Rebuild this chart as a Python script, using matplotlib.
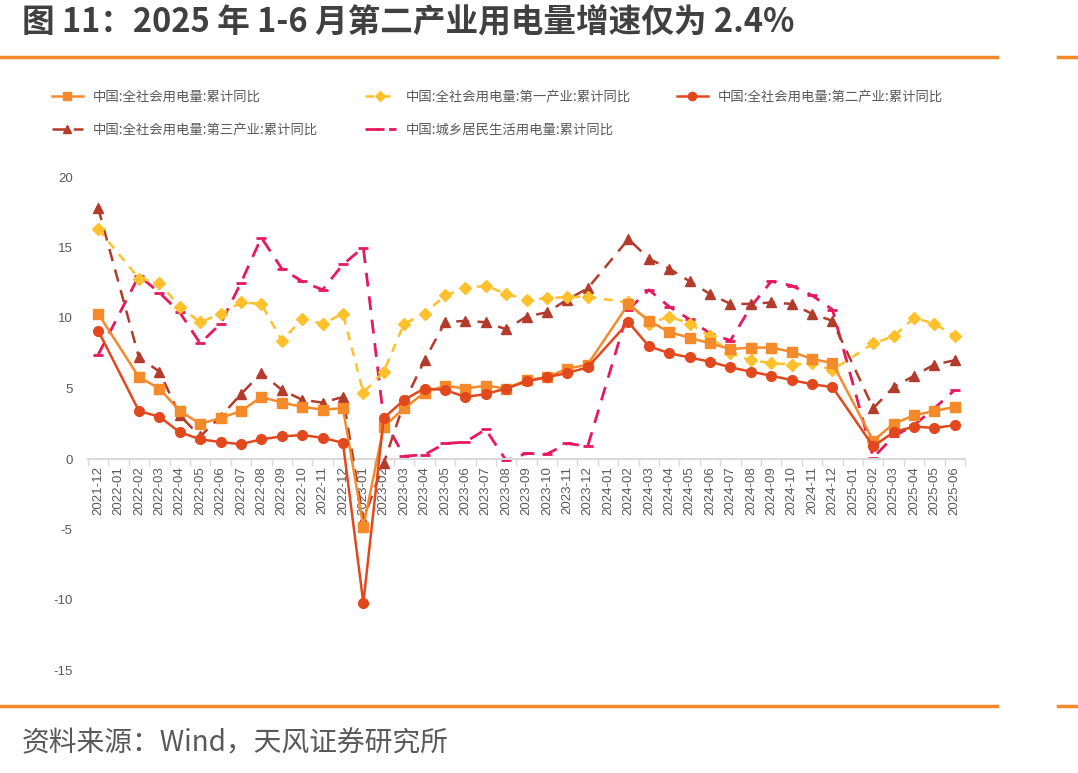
import numpy as np
import matplotlib
matplotlib.use("Agg")
import matplotlib.pyplot as plt
from matplotlib.lines import Line2D

plt.rcParams['font.family'] = ['Liberation Sans', 'Noto Sans CJK SC', 'DejaVu Sans']

months = ["2021-12", "2022-01", "2022-02", "2022-03", "2022-04", "2022-05", "2022-06",
          "2022-07", "2022-08", "2022-09", "2022-10", "2022-11", "2022-12", "2023-01",
          "2023-02", "2023-03", "2023-04", "2023-05", "2023-06", "2023-07", "2023-08",
          "2023-09", "2023-10", "2023-11", "2023-12", "2024-01", "2024-02", "2024-03",
          "2024-04", "2024-05", "2024-06", "2024-07", "2024-08", "2024-09", "2024-10",
          "2024-11", "2024-12", "2025-01", "2025-02", "2025-03", "2025-04", "2025-05",
          "2025-06"]

N = None
total = [10.3, N, 5.8, 5.0, 3.4, 2.5, 2.9, 3.4, 4.4, 4.0, 3.7, 3.5, 3.6, -4.8,
         2.3, 3.6, 4.7, 5.2, 5.0, 5.2, 5.0, 5.6, 5.8, 6.4, 6.7, N, 11.0, 9.8,
         9.0, 8.6, 8.2, 7.8, 7.9, 7.9, 7.6, 7.1, 6.8, N, 1.3, 2.5, 3.1, 3.4, 3.7]
primary = [16.3, N, 12.8, 12.5, 10.8, 9.7, 10.3, 11.1, 11.0, 8.4, 9.9, 9.6, 10.3, 4.7,
           6.2, 9.6, 10.3, 11.6, 12.1, 12.3, 11.7, 11.3, 11.4, 11.5, 11.5, N, 11.1, 9.6,
           10.1, 9.6, 8.7, 7.5, 7.0, 6.8, 6.7, 6.8, 6.3, N, 8.2, 8.7, 10.0, 9.6, 8.7]
secondary = [9.1, N, 3.4, 3.0, 1.9, 1.4, 1.2, 1.05, 1.4, 1.6, 1.7, 1.5, 1.15, -10.2,
             2.9, 4.2, 5.0, 4.9, 4.4, 4.6, 5.0, 5.5, 5.8, 6.1, 6.5, N, 9.7, 8.0,
             7.5, 7.2, 6.9, 6.5, 6.2, 5.9, 5.6, 5.3, 5.1, N, 0.9, 1.9, 2.3, 2.2, 2.4]
tertiary = [17.8, N, 7.2, 6.2, 3.1, 1.6, 3.0, 4.6, 6.1, 4.9, 4.2, 4.0, 4.4, -4.3,
            -0.3, 4.0, 7.0, 9.7, 9.8, 9.7, 9.2, 10.1, 10.4, 11.3, 12.1, N, 15.6, 14.2,
            13.5, 12.6, 11.7, 11.0, 11.0, 11.1, 11.0, 10.3, 9.8, N, 3.6, 5.1, 5.9, 6.7, 7.0]
residential = [7.4, N, 13.0, 11.8, 10.4, 8.2, 9.6, 12.5, 15.7, 13.5, 12.6, 12.0, 13.8, 15.0,
               2.8, 0.2, 0.3, 1.1, 1.2, 2.1, -0.1, 0.4, 0.35, 1.1, 0.9, N, 10.6, 12.0,
               10.8, 9.9, 8.9, 8.4, 10.8, 12.6, 12.3, 11.6, 10.6, N, 0.1, 1.6, 2.4, 3.6, 4.9]

labels = ["中国:全社会用电量:累计同比",
          "中国:全社会用电量:第一产业:累计同比",
          "中国:全社会用电量:第二产业:累计同比",
          "中国:全社会用电量:第三产业:累计同比",
          "中国:城乡居民生活用电量:累计同比"]
yticks = [-15, -10, -5, 0, 5, 10, 15, 20]

fig = plt.figure(figsize=(10.78, 7.73), dpi=100)
ax = fig.add_axes([88/1078, (773-670.5)/773, (965-88)/1078, (670.5-177)/773])

def plot_series(vals, **kw):
    xs = [i for i, v in enumerate(vals) if v is not None]
    ys = [v for v in vals if v is not None]
    return ax.plot(xs, ys, clip_on=False, **kw)[0]

c_total = '#F58A2A'
c_prim = '#FFC12B'
c_sec = '#E2481E'
c_ter = '#B33B2C'
c_res = '#E8185C'

h_res = plot_series(residential, color=c_res, lw=2.0, dashes=(5, 3.5), marker='_', ms=7, mew=2, zorder=2)
h_ter = plot_series(tertiary, color=c_ter, lw=1.8, dashes=(5, 3.5), marker='^', ms=7, zorder=3)
h_prim = plot_series(primary, color=c_prim, lw=1.8, dashes=(3.5, 3), marker='D', ms=6.5, zorder=3)
h_tot = plot_series(total, color=c_total, lw=1.8, marker='s', ms=7, zorder=4)
h_sec = plot_series(secondary, color=c_sec, lw=1.8, marker='o', ms=7, zorder=5)

ax.set_xlim(-0.5, len(months) - 0.5)
ax.set_ylim(-15, 20)
for s in ['top', 'right', 'left']:
    ax.spines[s].set_visible(False)
ax.spines['bottom'].set_position(('data', 0))
ax.spines['bottom'].set_color('#D9D9D9')
ax.spines['bottom'].set_linewidth(1.5)

ax.set_xticks(range(len(months)))
ax.set_xticklabels(months, rotation=90, fontsize=9.5, color='#595959')
ax.set_xticks(np.arange(-0.5, len(months), 1.0), minor=True)
ax.tick_params(axis='x', which='major', length=0, pad=5)
ax.tick_params(axis='x', which='minor', length=5, color='#D9D9D9', width=1)
ax.set_yticks(yticks)
ax.set_yticklabels([str(v) for v in yticks], fontsize=9.5, color='#595959')
ax.tick_params(axis='y', length=0, pad=11)

# legend entries placed individually
entries = [(h_tot, labels[0], 52, 97), (h_prim, labels[1], 365, 97), (h_sec, labels[2], 677, 97),
           (h_ter, labels[3], 52, 130), (h_res, labels[4], 365, 130)]
for h, lab, px, py in entries:
    lg = fig.legend([h], [lab], loc='center left',
                    bbox_to_anchor=(px/1078, 1 - py/773),
                    frameon=False, handlelength=2.3, handletextpad=0.75,
                    borderaxespad=0, borderpad=0, markerscale=0.85,
                    prop={'family': ['Noto Sans CJK SC', 'DejaVu Sans'], 'size': 9.6})
    for t in lg.get_texts():
        t.set_color('#595959')

# title and decorations
fig.text(22/1078, 1 - 23/773, "图 11：2025 年 1-6 月第二产业用电量增速仅为 2.4%",
         fontsize=23.5, fontweight='bold', color='#404040', va='center', ha='left',
         family=['Noto Sans CJK SC', 'DejaVu Sans'])
fig.text(22/1078, 1 - 743/773, "资料来源：Wind，天风证券研究所",
         fontsize=20, color='#595959', va='center', ha='left',
         family=['Noto Sans CJK SC', 'DejaVu Sans'])
for yy in [57, 706]:
    fig.add_artist(Line2D([0, 997/1078], [1 - yy/773]*2, color='#F5892A', lw=2.5))
    fig.add_artist(Line2D([1058/1078, 1], [1 - yy/773]*2, color='#F5892A', lw=2.5))

fig.savefig('out.png', dpi=100)
